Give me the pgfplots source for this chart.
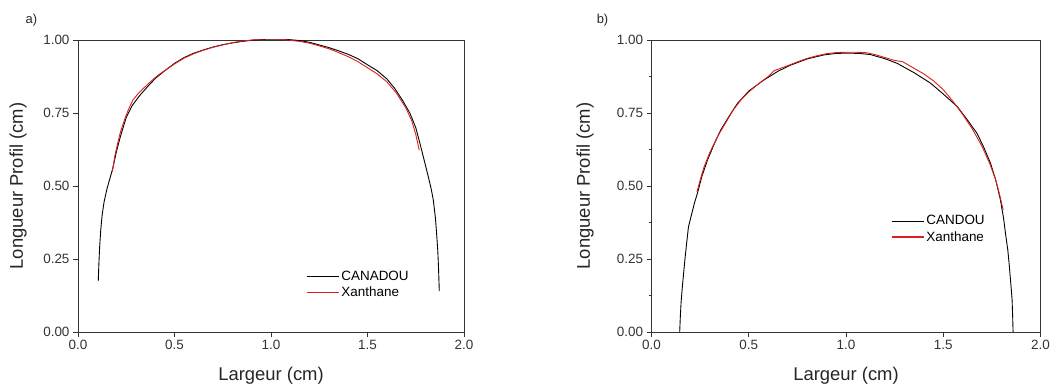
\documentclass[border=0pt]{standalone}
\usepackage{pgfplots}
\pgfplotsset{compat=1.18}
\usepackage{fontspec}
\setmainfont{Liberation Sans}
\definecolor{axgray}{HTML}{333333}
\definecolor{xred}{RGB}{220,30,30}

\pgfplotstableread{
x y
0.105 0.175
0.108 0.23
0.112 0.29
0.118 0.35
0.125 0.40
0.135 0.445
0.150 0.49
0.165 0.525
0.180 0.56
0.200 0.62
0.220 0.67
0.250 0.735
0.280 0.775
0.320 0.81
0.360 0.84
0.400 0.868
0.450 0.895
0.500 0.92
0.550 0.94
0.600 0.955
0.650 0.966
0.700 0.976
0.750 0.984
0.800 0.99
0.850 0.995
0.900 0.999
0.950 1.002
1.000 1.003
1.050 1.003
1.100 1.001
1.150 0.998
1.200 0.992
1.250 0.983
1.300 0.974
1.350 0.963
1.400 0.951
1.450 0.936
1.500 0.915
1.550 0.895
1.600 0.867
1.640 0.835
1.680 0.795
1.720 0.749
1.750 0.70
1.772 0.645
1.795 0.585
1.815 0.532
1.830 0.49
1.841 0.452
1.852 0.39
1.858 0.338
1.864 0.28
1.868 0.22
1.872 0.14
}\canadou

\pgfplotstableread{
x y
0.178 0.549
0.190 0.60
0.205 0.645
0.220 0.685
0.240 0.725
0.260 0.76
0.285 0.795
0.310 0.815
0.340 0.835
0.380 0.86
0.420 0.882
0.460 0.90
0.500 0.918
0.550 0.938
0.600 0.953
0.650 0.965
0.700 0.975
0.750 0.983
0.800 0.991
0.850 0.996
0.900 1.000
0.950 1.003
1.000 1.004
1.050 1.003
1.100 0.999
1.150 0.995
1.200 0.989
1.250 0.980
1.300 0.970
1.350 0.957
1.400 0.943
1.450 0.926
1.500 0.905
1.550 0.884
1.600 0.857
1.650 0.818
1.700 0.766
1.730 0.722
1.750 0.677
1.768 0.623
}\xanA

\pgfplotstableread{
x y
0.145 0.00
0.148 0.05
0.152 0.10
0.158 0.15
0.165 0.20
0.172 0.25
0.180 0.30
0.190 0.36
0.205 0.40
0.220 0.44
0.236 0.475
0.260 0.535
0.288 0.589
0.320 0.64
0.356 0.692
0.400 0.74
0.442 0.783
0.500 0.825
0.578 0.863
0.650 0.893
0.715 0.914
0.800 0.935
0.887 0.949
0.950 0.954
1.007 0.955
1.070 0.954
1.126 0.950
1.200 0.936
1.263 0.92
1.350 0.888
1.435 0.852
1.500 0.815
1.572 0.772
1.620 0.73
1.674 0.68
1.710 0.63
1.743 0.578
1.770 0.52
1.794 0.452
1.810 0.39
1.820 0.338
1.832 0.28
1.840 0.224
1.848 0.16
1.854 0.11
1.857 0.05
1.859 0.00
}\candou

\pgfplotstableread{
x y
0.234 0.48
0.250 0.52
0.270 0.565
0.300 0.615
0.340 0.67
0.380 0.715
0.420 0.76
0.460 0.795
0.500 0.822
0.550 0.85
0.600 0.875
0.630 0.895
0.660 0.902
0.700 0.912
0.750 0.925
0.800 0.937
0.850 0.946
0.900 0.953
0.950 0.957
1.000 0.958
1.050 0.958
1.100 0.957
1.150 0.950
1.200 0.940
1.250 0.930
1.290 0.926
1.350 0.903
1.400 0.884
1.450 0.86
1.500 0.83
1.550 0.79
1.600 0.745
1.650 0.695
1.700 0.635
1.740 0.575
1.770 0.52
1.790 0.47
1.808 0.418
}\xanB

\begin{document}
\begin{tikzpicture}
\pgfplotsset{
  myaxis/.style={
    scale only axis, height=292bp,
    xmin=0, xmax=2, ymin=0, ymax=1,
    xtick={0,0.5,1,1.5,2}, ytick={0,0.25,0.5,0.75,1},
    axis line style={axgray, line width=0.8pt},
    every tick/.style={axgray, line width=0.8pt},
    major tick length=5bp, minor tick length=3bp,
    tick align=outside, xtick pos=bottom, ytick pos=left,
    /pgf/number format/assume math mode=true,
    ticklabel style={font=\fontsize{13.5}{15}\selectfont, text=axgray},
    xticklabel style={/pgf/number format/.cd, fixed, fixed zerofill, precision=1},
    yticklabel style={/pgf/number format/.cd, fixed, fixed zerofill, precision=2},
    label style={font=\fontsize{18.5}{22}\selectfont, text=black!85},
    xlabel={Largeur (cm)}, ylabel={Longueur Profil (cm)},
    x label style={at={(axis description cs:0.5,-0.151)}, anchor=center},
    legend style={draw=none, fill=none, font=\fontsize{13.5}{16}\selectfont,
      anchor=north west, row sep=1bp},
    legend cell align=left,
  }
}
\path[use as bounding box] (0,0) rectangle (1060bp,387bp);
\begin{axis}[myaxis, width=386bp, at={(78bp,55bp)}, anchor=south west,
  y label style={at={(axis description cs:-0.155,0.5)}, anchor=center},
  legend style={at={(axis description cs:0.583,0.2235)}}]
\addplot[black, line width=0.9pt, forget plot] table[x=x,y=y] {\canadou};
\addplot[xred, line width=0.9pt, forget plot] table[x=x,y=y] {\xanA};
\addlegendimage{legend image code/.code={\draw[black, line width=1pt] (0bp,0bp) -- (32bp,0bp);}}
\addlegendentry{CANADOU}
\addlegendimage{legend image code/.code={\draw[xred, line width=1.2pt] (0bp,0bp) -- (32bp,0bp);}}
\addlegendentry{Xanthane}
\end{axis}
\begin{axis}[myaxis, width=389bp, at={(651.5bp,55bp)}, anchor=south west,
  minor ytick={0.125,0.375,0.625,0.875},
  y label style={at={(axis description cs:-0.171,0.5)}, anchor=center},
  legend style={at={(axis description cs:0.608,0.413)}}]
\addplot[black, line width=0.9pt, forget plot] table[x=x,y=y] {\candou};
\addplot[xred, line width=0.9pt, forget plot] table[x=x,y=y] {\xanB};
\addlegendimage{legend image code/.code={\draw[black, line width=1pt] (0bp,0bp) -- (32bp,0bp);}}
\addlegendentry{CANDOU}
\addlegendimage{legend image code/.code={\draw[xred, line width=1.2pt] (0bp,0bp) -- (32bp,0bp);}}
\addlegendentry{Xanthane}
\end{axis}
\node[font=\fontsize{13}{15}\selectfont, text=black!85] at (31.5bp,367bp) {a)};
\node[font=\fontsize{13}{15}\selectfont, text=black!85] at (602.5bp,367bp) {b)};
\end{tikzpicture}
\end{document}
